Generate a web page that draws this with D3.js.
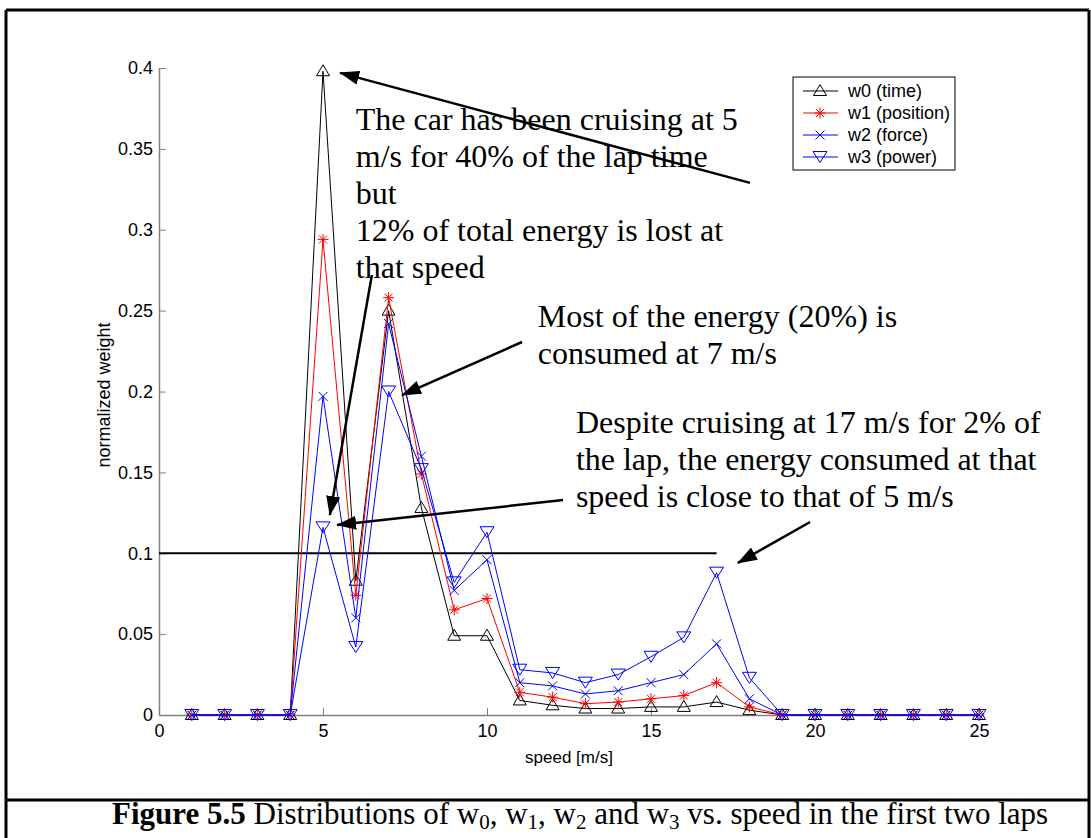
<!DOCTYPE html>
<html>
<head>
<meta charset="utf-8">
<script src="https://cdn.jsdelivr.net/npm/d3@7"></script>
<style>
body { margin: 0; background: #fff; }
svg { display: block; }
</style>
</head>
<body>
<div id="chart"></div>
<script>
// velocidades (m/s) e pesos normalizados
const speeds = [1,2,3,4,5,6,7,8,9,10,11,12,13,14,15,16,17,18,19,20,21,22,23,24,25];
const w0 = [0,0,0,0,0.398,0.083,0.250,0.128,0.049,0.049,0.009,0.006,0.004,0.004,0.005,0.005,0.008,0.003,0,0,0,0,0,0,0];
const w1 = [0,0,0,0,0.294,0.074,0.258,0.149,0.065,0.072,0.014,0.011,0.007,0.008,0.010,0.012,0.020,0.005,0,0,0,0,0,0,0];
const w2 = [0,0,0,0,0.197,0.060,0.242,0.160,0.077,0.096,0.020,0.018,0.013,0.015,0.020,0.025,0.044,0.010,0,0,0,0,0,0,0];
const w3 = [0,0,0,0,0.116,0.042,0.200,0.152,0.082,0.113,0.028,0.026,0.020,0.025,0.036,0.048,0.088,0.023,0,0,0,0,0,0,0];
const seriesNames = ["w0 (time)", "w1 (position)", "w2 (force)", "w3 (power)"];

const xTicks = [0,5,10,15,20,25];
const yTicks = [0,0.05,0.1,0.15,0.2,0.25,0.3,0.35,0.4];

// linha de referencia em 0.1, vai de 0 ate 17 m/s
const refLine = [[0, 0.1], [17, 0.1]];

// anotacoes (em unidades dos dados)
const notes = [
    {x: 6.0, y: 0.3617, lines: ["The car has been cruising at 5", "m/s for 40% of the lap time", "but", "12% of total energy is lost at", "that speed"]},
    {x: 11.55, y: 0.2399, lines: ["Most of the energy (20%) is", "consumed at 7 m/s"]},
    {x: 12.71, y: 0.1743, lines: ["Despite cruising at 17 m/s for 2% of", "the lap, the energy consumed at that", "speed is close to that of 5 m/s"]}
];
const arrows = [
    [[18.02, 0.329], [5.52, 0.397]],
    [[6.49, 0.272], [5.21, 0.1236]],
    [[11.07, 0.2306], [7.41, 0.1978]],
    [[12.32, 0.1329], [5.43, 0.1175]],
    [[19.85, 0.1193], [17.65, 0.094]]
];

const width = 1091;
const height = 838;

// estilos de cada serie (separado dos dados)
const estilos = [
    {color: "#000000", marker: "tri"},
    {color: "#ff0000", marker: "star"},
    {color: "#0000ff", marker: "x"},
    {color: "#0000ff", marker: "tridown"}
];

function markerPath(kind){
    if(kind === "tri") return "M0,-6.5L6.5,4.5L-6.5,4.5Z";
    if(kind === "tridown") return "M0,5.5L7,-5.5L-7,-5.5Z";
    if(kind === "star") return "M-5.5,0H5.5M0,-5.5V5.5M-4,-4L4,4M-4,4L4,-4";
    if(kind === "x") return "M-4.5,-4.5L4.5,4.5M-4.5,4.5L4.5,-4.5";
}

const x = d3.scaleLinear().domain([0, 25]).range([159, 979]);
const y = d3.scaleLinear().domain([0, 0.4]).range([715, 68]);

const svg = d3.select("#chart").append("svg")
    .attr("width", width)
    .attr("height", height);

// moldura da figura
const frame = svg.append("g").attr("stroke", "#000").attr("stroke-width", 3);
frame.append("line").attr("x1", 6).attr("y1", 10).attr("x2", 1089).attr("y2", 10);
frame.append("line").attr("x1", 6).attr("y1", 10).attr("x2", 6).attr("y2", height);
frame.append("line").attr("x1", 1089).attr("y1", 10).attr("x2", 1089).attr("y2", height);
frame.append("line").attr("x1", 6).attr("y1", 800).attr("x2", 1089).attr("y2", 800);

// eixos (ticks para dentro, estilo matlab)
const yAxis = svg.append("g")
    .attr("transform", `translate(${x(0)},0)`)
    .call(d3.axisLeft(y).tickValues(yTicks).tickFormat(d => String(+d.toFixed(2))).tickSizeInner(-7).tickSizeOuter(0).tickPadding(6));
const xAxis = svg.append("g")
    .attr("transform", `translate(0,${y(0)})`)
    .call(d3.axisBottom(x).tickValues(xTicks).tickFormat(String).tickSizeInner(-7).tickSizeOuter(0).tickPadding(9));

[xAxis, yAxis].forEach(ax => {
    ax.select(".domain").attr("stroke", "#808080").attr("stroke-width", 1.5);
    ax.selectAll(".tick line").attr("stroke", "#808080");
    ax.selectAll(".tick text")
        .attr("fill", "#000")
        .style("font-family", "'Liberation Sans', Arial, sans-serif")
        .style("font-size", "18px");
});

svg.append("text")
    .attr("x", x(12.5))
    .attr("y", 763)
    .attr("text-anchor", "middle")
    .style("font-family", "'Liberation Sans', Arial, sans-serif")
    .style("font-size", "17px")
    .text("speed [m/s]");

svg.append("text")
    .attr("transform", "translate(110,395) rotate(-90)")
    .attr("text-anchor", "middle")
    .style("font-family", "'Liberation Sans', Arial, sans-serif")
    .style("font-size", "18px")
    .text("normalized weight");

// linha horizontal em 0.1
svg.append("line")
    .attr("x1", x(refLine[0][0])).attr("y1", y(refLine[0][1]))
    .attr("x2", x(refLine[1][0])).attr("y2", y(refLine[1][1]))
    .attr("stroke", "#000")
    .attr("stroke-width", 2);

// series
const series = [w0, w1, w2, w3].map((vals, i) => ({
    name: seriesNames[i],
    pontos: speeds.map((s, j) => ({s, v: vals[j]})),
    estilo: estilos[i]
}));

const line = d3.line().x(d => x(d.s)).y(d => y(d.v));

series.forEach(serie => {
    const g = svg.append("g");
    g.append("path")
        .datum(serie.pontos)
        .attr("d", line)
        .attr("fill", "none")
        .attr("stroke", serie.estilo.color)
        .attr("stroke-width", 1);
    g.selectAll("path.mk")
        .data(serie.pontos)
        .join("path")
        .attr("class", "mk")
        .attr("transform", d => `translate(${x(d.s)},${y(d.v)})`)
        .attr("d", markerPath(serie.estilo.marker))
        .attr("fill", "none")
        .attr("stroke", serie.estilo.color)
        .attr("stroke-width", 1);
});

// legenda
const leg = svg.append("g").attr("transform", "translate(793,77)");
leg.append("rect")
    .attr("width", 162).attr("height", 93)
    .attr("fill", "#fff")
    .attr("stroke", "#000")
    .attr("stroke-width", 1);
series.forEach((serie, i) => {
    const ly = 14 + i * 22;
    leg.append("line")
        .attr("x1", 10).attr("x2", 45).attr("y1", ly).attr("y2", ly)
        .attr("stroke", serie.estilo.color);
    leg.append("path")
        .attr("transform", `translate(27,${ly})`)
        .attr("d", markerPath(serie.estilo.marker))
        .attr("fill", "none")
        .attr("stroke", serie.estilo.color);
    leg.append("text")
        .attr("x", 55).attr("y", ly + 6)
        .style("font-family", "'Liberation Sans', Arial, sans-serif")
        .style("font-size", "18px")
        .text(serie.name);
});

// setas
svg.append("defs").append("marker")
    .attr("id", "seta")
    .attr("viewBox", "0 0 20 14")
    .attr("refX", 19).attr("refY", 7)
    .attr("markerWidth", 20).attr("markerHeight", 14)
    .attr("markerUnits", "userSpaceOnUse")
    .attr("orient", "auto")
    .append("path")
    .attr("d", "M0,0L20,7L0,14Z")
    .attr("fill", "#000");

svg.append("g").selectAll("line")
    .data(arrows)
    .join("line")
    .attr("x1", d => x(d[0][0])).attr("y1", d => y(d[0][1]))
    .attr("x2", d => x(d[1][0])).attr("y2", d => y(d[1][1]))
    .attr("stroke", "#000")
    .attr("stroke-width", 2.5)
    .attr("marker-end", "url(#seta)");

// textos das anotacoes
notes.forEach(n => {
    const t = svg.append("text")
        .attr("x", x(n.x))
        .attr("y", y(n.y))
        .style("font-family", "'Liberation Serif', 'Times New Roman', serif")
        .style("font-size", "32px");
    n.lines.forEach((l, i) => {
        t.append("tspan")
            .attr("x", x(n.x))
            .attr("dy", i === 0 ? 0 : 37)
            .text(l);
    });
});

// legenda da figura (com subscritos)
const cap = svg.append("text")
    .attr("x", 112)
    .attr("y", 824)
    .style("font-family", "'Liberation Serif', 'Times New Roman', serif")
    .style("font-size", "31px");
cap.append("tspan").attr("font-weight", "bold").text("Figure 5.5");
const partes = [" Distributions of w", "0", ", w", "1", ", w", "2", " and w", "3", " vs. speed in the first two laps"];
partes.forEach((txt, i) => {
    const sub = i % 2 === 1;
    const ts = cap.append("tspan").text(txt);
    if(sub) ts.attr("dy", 5).style("font-size", "21px");
    else if(i > 0) ts.attr("dy", -5);
});
</script>
</body>
</html>
